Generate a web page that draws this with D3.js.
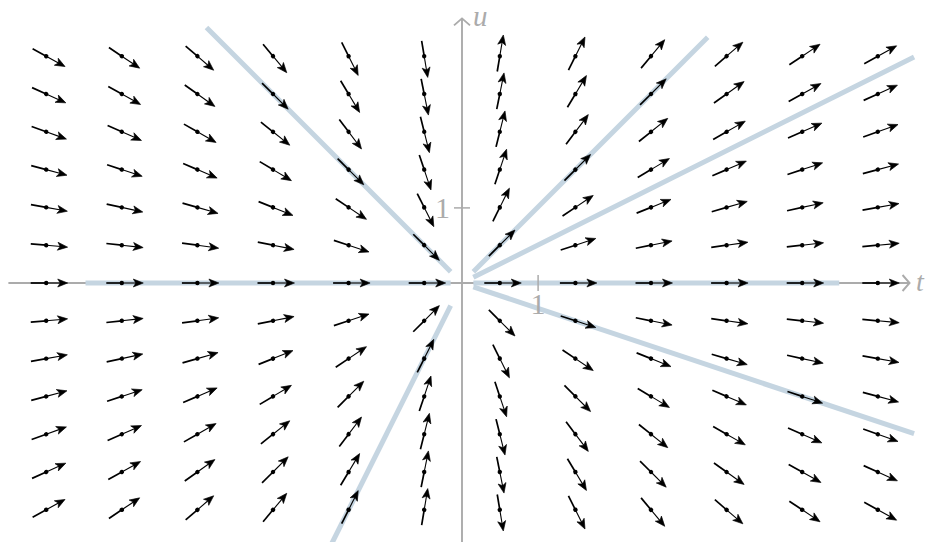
<!DOCTYPE html>
<html>
<head>
<meta charset="utf-8">
<script src="https://cdn.jsdelivr.net/npm/d3@7"></script>
<style>
body { margin: 0; background: #fff; }
</style>
</head>
<body>
<div class="chart"></div>
<script>
const WIDTH = 931;
const HEIGHT = 542;

const AXIS_COLOR = '#ababab';
const LINE_COLOR = '#c5d5e1';

// sample points of the direction field
var tValues = [-5.5, -4.5, -3.5, -2.5, -1.5, -0.5, 0.5, 1.5, 2.5, 3.5, 4.5, 5.5];
var uValues = [3, 2.5, 2, 1.5, 1, 0.5, 0, -0.5, -1, -1.5, -2, -2.5, -3];

// slope of the arrow at each point, one row per u value
var slopes = [
    [-0.55, -0.67, -0.86, -1.2, -2, -6, 6, 2, 1.2, 0.86, 0.67, 0.55],
    [-0.45, -0.56, -0.71, -1, -1.67, -5, 5, 1.67, 1, 0.71, 0.56, 0.45],
    [-0.36, -0.44, -0.57, -0.8, -1.33, -4, 4, 1.33, 0.8, 0.57, 0.44, 0.36],
    [-0.27, -0.33, -0.43, -0.6, -1, -3, 3, 1, 0.6, 0.43, 0.33, 0.27],
    [-0.18, -0.22, -0.29, -0.4, -0.67, -2, 2, 0.67, 0.4, 0.29, 0.22, 0.18],
    [-0.09, -0.11, -0.14, -0.2, -0.33, -1, 1, 0.33, 0.2, 0.14, 0.11, 0.09],
    [0, 0, 0, 0, 0, 0, 0, 0, 0, 0, 0, 0],
    [0.09, 0.11, 0.14, 0.2, 0.33, 1, -1, -0.33, -0.2, -0.14, -0.11, -0.09],
    [0.18, 0.22, 0.29, 0.4, 0.67, 2, -2, -0.67, -0.4, -0.29, -0.22, -0.18],
    [0.27, 0.33, 0.43, 0.6, 1, 3, -3, -1, -0.6, -0.43, -0.33, -0.27],
    [0.36, 0.44, 0.57, 0.8, 1.33, 4, -4, -1.33, -0.8, -0.57, -0.44, -0.36],
    [0.45, 0.56, 0.71, 1, 1.67, 5, -5, -1.67, -1, -0.71, -0.56, -0.45],
    [0.55, 0.67, 0.86, 1.2, 2, 6, -6, -2, -1.2, -0.86, -0.67, -0.55]
];

// straight solutions u = c*t, each between a start and end t
var solutionSlopes = [-1, 0, 2, 1, 0.5, 0, -1 / 3];
var solutionStart = [-3.38, -4.98, -0.15, 0.15, 0.15, 0.15, 0.15];
var solutionEnd = [-0.15, -0.15, -1.8, 3.25, 5.98, 4.99, 5.98];

var tickValues = [1];
var tickLabels = ['1'];

var xScale = d3.scaleLinear().domain([-6, 6]).range([462 - 6 * 75.6, 462 + 6 * 75.6]);
var yScale = d3.scaleLinear().domain([-3.5, 3.5]).range([283 + 3.5 * 75.6, 283 - 3.5 * 75.6]);

var translate = function (x, y) {
    return "translate(" + x + "," + y + ")";
};

var drawAxisLines = function (svg) {
    var g = svg.append('g')
        .attr('fill', 'none')
        .attr('stroke', AXIS_COLOR)
        .attr('stroke-width', 1.9);

    g.append('line')
        .attr('x1', xScale(-6)).attr('x2', xScale(5.92))
        .attr('y1', yScale(0)).attr('y2', yScale(0));
    g.append('path')
        .attr('d', 'M' + (xScale(5.92) - 7) + ',' + (yScale(0) - 8) +
            ' L' + xScale(5.92) + ',' + yScale(0) +
            ' L' + (xScale(5.92) - 7) + ',' + (yScale(0) + 8));

    g.append('line')
        .attr('x1', xScale(0)).attr('x2', xScale(0))
        .attr('y1', HEIGHT + 5).attr('y2', yScale(3.5));
    g.append('path')
        .attr('d', 'M' + (xScale(0) - 8) + ',' + (yScale(3.5) + 7) +
            ' L' + xScale(0) + ',' + yScale(3.5) +
            ' L' + (xScale(0) + 8) + ',' + (yScale(3.5) + 7));
};

var drawTicks = function (svg) {
    var xAxis = d3.axisBottom(xScale)
        .tickValues(tickValues)
        .tickFormat(function (d, i) { return tickLabels[i]; })
        .tickSize(8);
    var yAxis = d3.axisLeft(yScale)
        .tickValues(tickValues)
        .tickFormat(function (d, i) { return tickLabels[i]; })
        .tickSize(8);

    var gx = svg.append('g').attr('transform', translate(0, yScale(0))).call(xAxis);
    var gy = svg.append('g').attr('transform', translate(xScale(0), 0)).call(yAxis);

    [gx, gy].forEach(function (g) {
        g.select('.domain').remove();
        g.selectAll('line').attr('stroke', AXIS_COLOR).attr('stroke-width', 1.5);
        g.selectAll('text')
            .attr('fill', AXIS_COLOR)
            .style('font-family', '"Liberation Serif", "DejaVu Serif", serif')
            .style('font-size', '30px');
    });
    gx.selectAll('line').attr('y1', -8).attr('y2', 8);
    gx.selectAll('text').attr('y', 10).attr('dy', '0.7em');
    gy.selectAll('line').attr('x1', 8).attr('x2', -8);
    gy.selectAll('text').attr('x', -12).attr('dy', '0.33em');

    // axis names, kept just inside the page edges
    svg.append('text')
        .attr('x', xScale(0) + 11).attr('y', 26)
        .attr('fill', AXIS_COLOR)
        .style('font-family', '"Liberation Serif", serif')
        .style('font-style', 'italic')
        .style('font-size', '29px')
        .text('u');
    svg.append('text')
        .attr('x', 916).attr('y', yScale(0) + 8)
        .attr('fill', AXIS_COLOR)
        .style('font-family', '"Liberation Serif", serif')
        .style('font-style', 'italic')
        .style('font-size', '28px')
        .text('t');
};

var drawSolutions = function (svg) {
    var line = d3.line()
        .x(function (p) { return xScale(p[0]); })
        .y(function (p) { return yScale(p[1]); });

    svg.append('g').selectAll('path')
        .data(solutionSlopes)
        .enter().append('path')
        .attr('d', function (c, i) {
            return line([[solutionStart[i], c * solutionStart[i]], [solutionEnd[i], c * solutionEnd[i]]]);
        })
        .attr('fill', 'none')
        .attr('stroke', LINE_COLOR)
        .attr('stroke-width', 5);
};

var drawField = function (svg) {
    var points = [];
    uValues.forEach(function (u, r) {
        tValues.forEach(function (t, c) {
            points.push({t: t, u: u, s: slopes[r][c]});
        });
    });

    var arrows = svg.append('g').selectAll('g')
        .data(points)
        .enter().append('g')
        .attr('transform', function (p) {
            var px = xScale(p.t + 1) - xScale(p.t);
            var py = yScale(p.u + p.s) - yScale(p.u);
            var angle = Math.atan2(py, px) * 180 / Math.PI;
            return translate(xScale(p.t), yScale(p.u)) + ' rotate(' + angle + ')';
        });

    arrows.append('line')
        .attr('x1', -15.5).attr('x2', 0).attr('y1', 0).attr('y2', 0)
        .attr('stroke', '#000').attr('stroke-width', 1.7);
    arrows.append('line')
        .attr('x1', 0).attr('x2', 15).attr('y1', 0).attr('y2', 0)
        .attr('stroke', '#000').attr('stroke-width', 1.1);
    arrows.append('path')
        .attr('d', 'M21.5,0 L11.5,-4 L14,0 L11.5,4 Z')
        .attr('fill', '#000')
        .attr('stroke', '#000')
        .attr('stroke-width', 0.6)
        .attr('stroke-linejoin', 'round');
    arrows.append('circle')
        .attr('r', 2.2)
        .attr('fill', '#000');
};

var generateChart = function () {
    var svg = d3.select('.chart').append('svg')
        .attr('width', WIDTH)
        .attr('height', HEIGHT)
        .style('display', 'block');

    drawAxisLines(svg);
    drawSolutions(svg);
    drawTicks(svg);
    drawField(svg);
};

generateChart();
</script>
</body>
</html>
